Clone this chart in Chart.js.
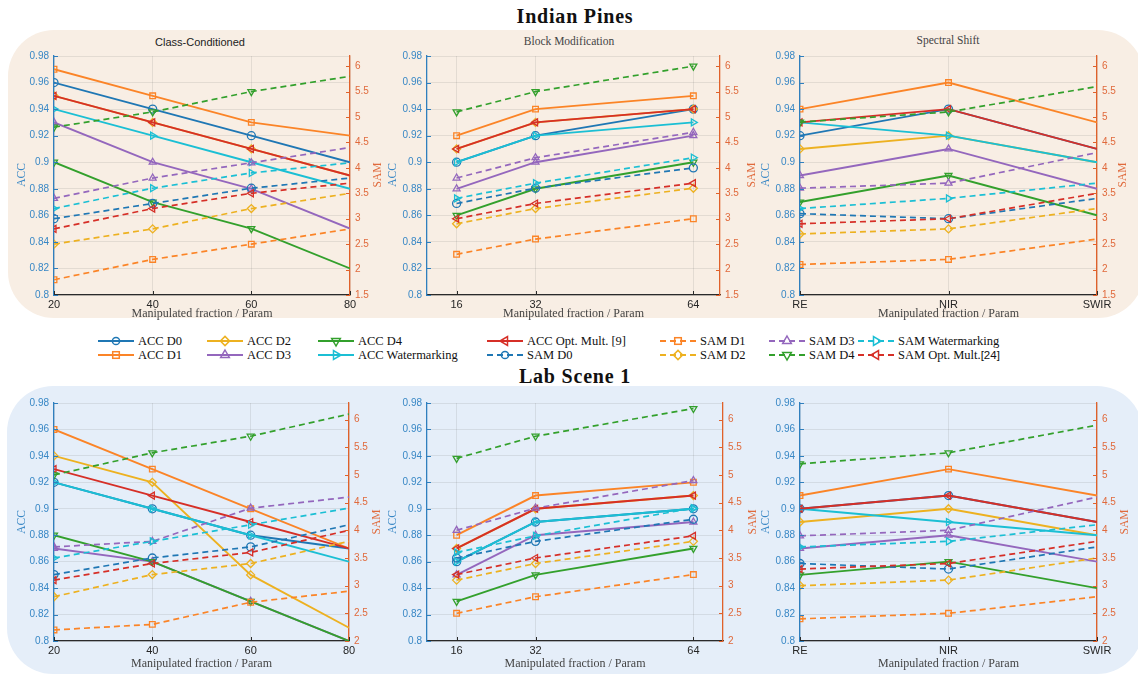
<!DOCTYPE html>
<html>
<head>
<meta charset="utf-8">
<title>Indian Pines / Lab Scene 1 – ACC and SAM</title>
<script src="https://cdn.jsdelivr.net/npm/chart.js@4.4.1/dist/chart.umd.min.js"></script>
<style>
  html, body { margin: 0; padding: 0; background: #fff; }
  body { position: relative; width: 1138px; height: 675px; overflow: hidden; }
  .panel { position: absolute; border-radius: 46px; }
  canvas { position: absolute; }
  .txt { position: absolute; white-space: nowrap; line-height: 1; transform: translate(-50%, -50%); }
  .vt { transform: translate(-50%, -50%) rotate(-90deg); }
  .serif { font-family: "Liberation Serif", "Times New Roman", serif; }
  .sans { font-family: "Liberation Sans", Arial, Helvetica, sans-serif; }
  .lg { position: absolute; display: flex; align-items: center; height: 14px; transform: translateY(-50%);
        font-family: "Liberation Serif", "Times New Roman", serif; font-size: 12.5px; color: #111; white-space: nowrap; }
  .lg svg { margin-right: 4px; overflow: visible; }
  .lg .ref { font-family: "Liberation Sans", Arial, sans-serif; font-size: 11.5px; }
</style>
</head>
<body>
<div class="panel" style="left:8px;top:30px;width:1136px;height:288px;background:#f8eee4;"></div>
<div class="panel" style="left:7px;top:386px;width:1136px;height:288px;background:#e5eef9;"></div>

<div class="txt serif" style="left:575px;top:16px;font-size:20px;font-weight:bold;letter-spacing:0.8px;color:#111;">Indian Pines</div>
<div class="txt serif" style="left:575px;top:376px;font-size:20px;font-weight:bold;letter-spacing:0.8px;color:#111;">Lab Scene 1</div>

<div class="txt sans"  style="left:200px;top:42px;font-size:11px;color:#222;">Class-Conditioned</div>
<div class="txt serif" style="left:569px;top:42px;font-size:11.5px;color:#444;">Block Modification</div>
<div class="txt serif" style="left:948px;top:41px;font-size:11.5px;color:#444;">Spectral Shift</div>

<div id="legend"></div>

<script>
// ---------------- data ----------------
const methods = ['D0', 'D1', 'D2', 'D3', 'D4', 'Watermarking', 'Opt. Mult.'];

const fractionX = [20, 40, 60, 80];
const blockX = [16, 32, 64];
const bandLabels = ['RE', 'NIR', 'SWIR'];

const accTicks = [0.8, 0.82, 0.84, 0.86, 0.88, 0.9, 0.92, 0.94, 0.96, 0.98];
const samTicksIndian = [1.5, 2, 2.5, 3, 3.5, 4, 4.5, 5, 5.5, 6];
const samTicksLab = [2, 2.5, 3, 3.5, 4, 4.5, 5, 5.5, 6];

// rows follow `methods`
// Indian Pines – Class-Conditioned
const ipClassAcc = [
  [0.96, 0.94, 0.92, 0.90],
  [0.97, 0.95, 0.93, 0.92],
  [0.95, 0.93, 0.91, 0.89],
  [0.93, 0.90, 0.88, 0.85],
  [0.90, 0.87, 0.85, 0.82],
  [0.94, 0.92, 0.90, 0.88],
  [0.95, 0.93, 0.91, 0.89]
];
const ipClassSam = [
  [3.0, 3.3, 3.6, 3.8],
  [1.8, 2.2, 2.5, 2.8],
  [2.5, 2.8, 3.2, 3.5],
  [3.4, 3.8, 4.1, 4.4],
  [4.8, 5.1, 5.5, 5.8],
  [3.2, 3.6, 3.9, 4.1],
  [2.8, 3.2, 3.5, 3.7]
];

// Indian Pines – Block Modification
const ipBlockAcc = [
  [0.90, 0.92, 0.94],
  [0.92, 0.94, 0.95],
  [0.91, 0.93, 0.94],
  [0.88, 0.90, 0.92],
  [0.86, 0.88, 0.90],
  [0.90, 0.92, 0.93],
  [0.91, 0.93, 0.94]
];
const ipBlockSam = [
  [3.3, 3.6, 4.0],
  [2.3, 2.6, 3.0],
  [2.9, 3.2, 3.6],
  [3.8, 4.2, 4.7],
  [5.1, 5.5, 6.0],
  [3.4, 3.7, 4.2],
  [3.0, 3.3, 3.7]
];

// Indian Pines – Spectral Shift
const ipSpecAcc = [
  [0.92, 0.94, 0.91],
  [0.94, 0.96, 0.93],
  [0.91, 0.92, 0.90],
  [0.89, 0.91, 0.88],
  [0.87, 0.89, 0.86],
  [0.93, 0.92, 0.90],
  [0.93, 0.94, 0.91]
];
const ipSpecSam = [
  [3.1, 3.0, 3.4],
  [2.1, 2.2, 2.6],
  [2.7, 2.8, 3.2],
  [3.6, 3.7, 4.3],
  [4.9, 5.1, 5.6],
  [3.2, 3.4, 3.7],
  [2.9, 3.0, 3.5]
];

// Lab Scene 1 – Class-Conditioned
const labClassAcc = [
  [0.92, 0.90, 0.88, 0.87],
  [0.96, 0.93, 0.90, 0.87],
  [0.94, 0.92, 0.85, 0.81],
  [0.87, 0.86, 0.83, 0.80],
  [0.88, 0.86, 0.83, 0.80],
  [0.92, 0.90, 0.88, 0.86],
  [0.93, 0.91, 0.89, 0.87]
];
const labClassSam = [
  [3.2, 3.5, 3.7, 4.1],
  [2.2, 2.3, 2.7, 2.9],
  [2.8, 3.2, 3.4, 3.8],
  [3.7, 3.8, 4.4, 4.6],
  [5.0, 5.4, 5.7, 6.1],
  [3.5, 3.8, 4.1, 4.4],
  [3.1, 3.4, 3.6, 4.0]
];

// Lab Scene 1 – Block Modification
const labBlockAcc = [
  [0.86, 0.89, 0.90],
  [0.88, 0.91, 0.92],
  [0.87, 0.90, 0.91],
  [0.85, 0.88, 0.89],
  [0.83, 0.85, 0.87],
  [0.86, 0.89, 0.90],
  [0.87, 0.90, 0.91]
];
const labBlockSam = [
  [3.5, 3.8, 4.2],
  [2.5, 2.8, 3.2],
  [3.1, 3.4, 3.8],
  [4.0, 4.4, 4.9],
  [5.3, 5.7, 6.2],
  [3.6, 3.9, 4.4],
  [3.2, 3.5, 3.9]
];

// Lab Scene 1 – Spectral Shift
const labSpecAcc = [
  [0.90, 0.91, 0.89],
  [0.91, 0.93, 0.91],
  [0.89, 0.90, 0.88],
  [0.87, 0.88, 0.86],
  [0.85, 0.86, 0.84],
  [0.90, 0.89, 0.88],
  [0.90, 0.91, 0.89]
];
const labSpecSam = [
  [3.4, 3.3, 3.7],
  [2.4, 2.5, 2.8],
  [3.0, 3.1, 3.5],
  [3.9, 4.0, 4.6],
  [5.2, 5.4, 5.9],
  [3.7, 3.8, 4.1],
  [3.3, 3.4, 3.8]
];

// ---------------- styling ----------------
const SANS = '"Liberation Sans", Arial, Helvetica, sans-serif';
const SERIF = '"Liberation Serif", "Times New Roman", serif';
const methodColors = ['#1f77b4', '#fb8427', '#edb120', '#9467bd', '#33a02c', '#1bbfd4', '#d62f27'];
const markerStyles = ['circle', 'rect', 'rectRot', 'triangle', 'triangle', 'triangle', 'triangle'];
const markerRotations = [0, 0, 0, 0, 180, 90, -90];

const ACC_AXIS = '#2f7fbe', ACC_TEXT = '#3887c5';
const SAM_AXIS = '#e0612a', SAM_TEXT = '#e06a3c';
const X_AXIS = '#2a2a2a';
const GRID = 'rgba(80,80,80,0.12)';

const PAD_LEFT = 50, PAD_RIGHT = 40, PAD_TOP = 10, X_HEIGHT = 22;

Chart.defaults.font.family = SANS;

const fmt = v => String(parseFloat(Number(v).toFixed(2)));

// short inward tick marks on every axis
const innerTicks = {
  id: 'innerTicks',
  afterDatasetsDraw(chart) {
    const { ctx, chartArea: a, scales } = chart;
    ctx.save();
    ctx.lineWidth = 1;
    const draw = (scale, color, fn) => {
      ctx.strokeStyle = color;
      scale.ticks.forEach((t, i) => {
        const p = Math.round(scale.getPixelForTick(i)) + 0.5;
        ctx.beginPath(); fn(p); ctx.stroke();
      });
    };
    draw(scales.acc, ACC_AXIS, y => { ctx.moveTo(a.left, y); ctx.lineTo(a.left + 4, y); });
    draw(scales.sam, SAM_AXIS, y => { ctx.moveTo(a.right, y); ctx.lineTo(a.right - 4, y); });
    draw(scales.x, X_AXIS, x => { ctx.moveTo(x, a.bottom); ctx.lineTo(x, a.bottom - 4); });
    ctx.restore();
  }
};

function buildDatasets(acc, sam, xs, hideLast) {
  const n = acc[0].length;
  const radii = Array.from({ length: n }, (_, i) => (hideLast && i === n - 1) ? 0 : 4);
  const toData = row => xs ? row.map((v, i) => ({ x: xs[i], y: v })) : row.slice();
  const sets = [];
  acc.forEach((row, m) => sets.push({
    label: 'ACC ' + methods[m], data: toData(row), yAxisID: 'acc',
    borderColor: methodColors[m], borderWidth: 1.9, borderDash: [],
    pointStyle: markerStyles[m], pointRotation: markerRotations[m]
  }));
  sam.forEach((row, m) => sets.push({
    label: 'SAM ' + methods[m], data: toData(row), yAxisID: 'sam',
    borderColor: methodColors[m], borderWidth: 1.7, borderDash: [6, 4],
    pointStyle: markerStyles[m], pointRotation: markerRotations[m]
  }));
  sets.forEach((d, i) => Object.assign(d, {
    order: 100 - i, clip: 0, tension: 0, fill: false,
    pointRadius: radii, pointBorderWidth: 1.3, pointBorderColor: d.borderColor,
    pointBackgroundColor: 'rgba(0,0,0,0)'
  }));
  return sets;
}

function makeChart(p) {
  const w = p.plot.right - p.plot.left + PAD_LEFT + PAD_RIGHT;
  const h = p.plot.bottom - p.plot.top + PAD_TOP + X_HEIGHT;
  const cv = document.createElement('canvas');
  cv.width = w; cv.height = h;
  cv.style.width = w + 'px'; cv.style.height = h + 'px';
  cv.style.left = (p.plot.left - PAD_LEFT) + 'px';
  cv.style.top = (p.plot.top - PAD_TOP) + 'px';
  document.body.appendChild(cv);

  const linearX = Array.isArray(p.xValues);
  const xScale = linearX ? {
    type: 'linear', min: p.xRange[0], max: p.xRange[1],
    afterBuildTicks: s => { s.ticks = p.xValues.map(v => ({ value: v })); },
    ticks: { callback: v => String(v) }
  } : {
    type: 'category', labels: p.xLabels, offset: false
  };
  Object.assign(xScale, {
    position: 'bottom',
    grid: { color: GRID, lineWidth: 1, drawTicks: false, offset: false },
    border: { color: X_AXIS, width: 1.2 },
    afterFit: s => { s.height = X_HEIGHT; }
  });
  xScale.ticks = Object.assign({}, xScale.ticks || {}, {
    color: '#262626', font: { size: 11 }, padding: 3, maxRotation: 0, autoSkip: false
  });

  new Chart(cv, {
    type: 'line',
    data: {
      labels: linearX ? undefined : p.xLabels,
      datasets: buildDatasets(p.acc, p.sam, linearX ? p.xValues : null, p.hideLastMarker)
    },
    options: {
      responsive: false, animation: false, devicePixelRatio: 1, events: [],
      layout: { padding: { top: PAD_TOP, left: 0, right: 0, bottom: 0 } },
      plugins: { legend: { display: false }, tooltip: { enabled: false }, title: { display: false } },
      scales: {
        x: xScale,
        acc: {
          type: 'linear', position: 'left', min: 0.8, max: 0.98,
          afterBuildTicks: s => { s.ticks = accTicks.map(v => ({ value: v })); },
          ticks: { color: ACC_TEXT, font: { size: 10 }, padding: 5, callback: fmt },
          grid: { color: GRID, lineWidth: 1, drawTicks: false },
          border: { color: ACC_AXIS, width: 1.3 },
          afterFit: s => { s.width = PAD_LEFT; }
        },
        sam: {
          type: 'linear', position: 'right', min: p.samRange[0], max: p.samRange[1],
          afterBuildTicks: s => { s.ticks = p.samTicks.map(v => ({ value: v })); },
          ticks: { color: SAM_TEXT, font: { size: 10 }, padding: 5, callback: fmt },
          grid: { display: false, drawTicks: false },
          border: { color: SAM_AXIS, width: 1.3 },
          afterFit: s => { s.width = PAD_RIGHT; }
        }
      }
    },
    plugins: [innerTicks]
  });
}

// ---------------- layout of the six axes ----------------
const subplots = [
  { plot: { left: 54, right: 350, top: 55, bottom: 295 }, xValues: fractionX, xRange: [20, 80],
    acc: ipClassAcc, sam: ipClassSam, samRange: [1.5, 6.2], samTicks: samTicksIndian, hideLastMarker: true,
    accTitleX: 22, samTitleX: 378, xLabelY: 313 },
  { plot: { left: 427, right: 720, top: 55, bottom: 295 }, xValues: blockX, xRange: [10, 69.4],
    acc: ipBlockAcc, sam: ipBlockSam, samRange: [1.5, 6.2], samTicks: samTicksIndian, hideLastMarker: false,
    accTitleX: 393, samTitleX: 752, xLabelY: 313 },
  { plot: { left: 800, right: 1097, top: 55, bottom: 295 }, xLabels: bandLabels,
    acc: ipSpecAcc, sam: ipSpecSam, samRange: [1.5, 6.2], samTicks: samTicksIndian, hideLastMarker: true,
    accTitleX: 766, samTitleX: 1123, xLabelY: 313 },
  { plot: { left: 54, right: 349, top: 402, bottom: 641 }, xValues: fractionX, xRange: [20, 80],
    acc: labClassAcc, sam: labClassSam, samRange: [2, 6.3], samTicks: samTicksLab, hideLastMarker: true,
    accTitleX: 22, samTitleX: 377, xLabelY: 663 },
  { plot: { left: 427, right: 723, top: 402, bottom: 641 }, xValues: blockX, xRange: [10, 70],
    acc: labBlockAcc, sam: labBlockSam, samRange: [2, 6.3], samTicks: samTicksLab, hideLastMarker: false,
    accTitleX: 393, samTitleX: 753, xLabelY: 663 },
  { plot: { left: 800, right: 1097, top: 402, bottom: 641 }, xLabels: bandLabels,
    acc: labSpecAcc, sam: labSpecSam, samRange: [2, 6.3], samTicks: samTicksLab, hideLastMarker: true,
    accTitleX: 766, samTitleX: 1125, xLabelY: 663 }
];

function addText(html, cls, style) {
  const d = document.createElement('div');
  d.className = cls;
  d.setAttribute('style', style);
  d.innerHTML = html;
  document.body.appendChild(d);
}

subplots.forEach(p => {
  makeChart(p);
  const cy = (p.plot.top + p.plot.bottom) / 2;
  const cx = (p.plot.left + p.plot.right) / 2;
  addText('ACC', 'txt vt serif', `left:${p.accTitleX}px;top:${cy}px;font-size:11.5px;color:${ACC_TEXT};`);
  addText('SAM', 'txt vt serif', `left:${p.samTitleX}px;top:${cy}px;font-size:11.5px;color:${SAM_TEXT};`);
  addText('Manipulated fraction / Param', 'txt serif', `left:${cx}px;top:${p.xLabelY}px;font-size:12px;color:#444;`);
});

// ---------------- legend ----------------
const legendEntries = [
  // [kind, method index, label, column x, row]
  ['ACC', 0, 'ACC D0', 98, 0], ['ACC', 1, 'ACC D1', 98, 1],
  ['ACC', 2, 'ACC D2', 207, 0], ['ACC', 3, 'ACC D3', 207, 1],
  ['ACC', 4, 'ACC D4', 318, 0], ['ACC', 5, 'ACC Watermarking', 318, 1],
  ['ACC', 6, 'ACC Opt. Mult. [9]', 487, 0], ['SAM', 0, 'SAM D0', 487, 1],
  ['SAM', 1, 'SAM D1', 660, 0], ['SAM', 2, 'SAM D2', 660, 1],
  ['SAM', 3, 'SAM D3', 769, 0], ['SAM', 4, 'SAM D4', 769, 1],
  ['SAM', 5, 'SAM Watermarking', 858, 0], ['SAM', 6, 'SAM Opt. Mult.<span class="ref">[24]</span>', 858, 1]
];
const legendRowsY = [341, 355];

function markerSvg(m, cx, cy, color) {
  const st = `fill="none" stroke="${color}" stroke-width="1.5"`;
  const kind = markerStyles[m];
  if (kind === 'circle') return `<circle cx="${cx}" cy="${cy}" r="3.6" ${st}/>`;
  if (kind === 'rect') return `<rect x="${cx - 3.3}" y="${cy - 3.3}" width="6.6" height="6.6" ${st}/>`;
  if (kind === 'rectRot') return `<polygon points="${cx},${cy - 4.6} ${cx + 4.6},${cy} ${cx},${cy + 4.6} ${cx - 4.6},${cy}" ${st}/>`;
  const r = 5, a = markerRotations[m] * Math.PI / 180;
  const pts = [[0, -r], [r * 0.866, r * 0.5], [-r * 0.866, r * 0.5]].map(([x, y]) =>
    [cx + x * Math.cos(a) - y * Math.sin(a), cy + x * Math.sin(a) + y * Math.cos(a)].map(v => v.toFixed(2)).join(','));
  return `<polygon points="${pts.join(' ')}" ${st}/>`;
}

const legendBox = document.getElementById('legend');
legendEntries.forEach(([kind, m, label, x, row]) => {
  const color = methodColors[m];
  const dash = kind === 'SAM' ? 'stroke-dasharray="6 4"' : '';
  const sw = kind === 'SAM' ? 1.8 : 2;
  const svg = `<svg width="36" height="14" viewBox="0 0 36 14">` +
    `<line x1="0" y1="7" x2="36" y2="7" stroke="${color}" stroke-width="${sw}" ${dash}/>` +
    markerSvg(m, 18, 7, color) + `</svg>`;
  const d = document.createElement('div');
  d.className = 'lg';
  d.style.left = x + 'px';
  d.style.top = legendRowsY[row] + 'px';
  d.innerHTML = svg + '<span>' + label + '</span>';
  legendBox.appendChild(d);
});
</script>
</body>
</html>
